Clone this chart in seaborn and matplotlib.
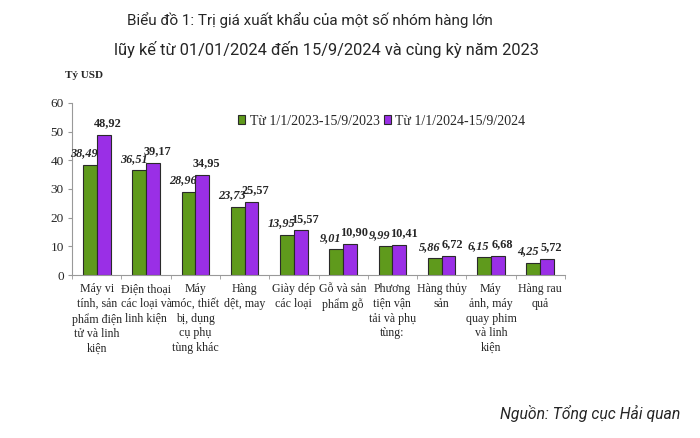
import matplotlib
matplotlib.use("Agg")
import matplotlib.pyplot as plt
import seaborn as sns
import pandas as pd

categories = [
    "Máy vi\ntính, sản\nphẩm điện\ntử và linh\nkiện",
    "Điện thoại\ncác loại và\nlinh kiện",
    "Máy\nmóc, thiết\nbị, dụng\ncụ phụ\ntùng khác",
    "Hàng\ndệt, may",
    "Giày dép\ncác loại",
    "Gỗ và sản\nphẩm gỗ",
    "Phương\ntiện vận\ntải và phụ\ntùng:",
    "Hàng thủy\nsản",
    "Máy\nảnh, máy\nquay phim\nvà linh\nkiện",
    "Hàng rau\nquả",
]
series_names = ["Từ 1/1/2023-15/9/2023", "Từ 1/1/2024-15/9/2024"]
values_2023 = [38.49, 36.51, 28.96, 23.73, 13.95, 9.01, 9.99, 5.86, 6.15, 4.25]
values_2024 = [48.92, 39.17, 34.95, 25.57, 15.57, 10.90, 10.41, 6.72, 6.68, 5.72]
yticks = [0, 10, 20, 30, 40, 50, 60]

df = pd.DataFrame({
    "cat": categories * 2,
    "series": [series_names[0]] * len(categories) + [series_names[1]] * len(categories),
    "value": values_2023 + values_2024,
})

sns.set_style("white")
plt.rcParams["font.family"] = ["Liberation Serif", "DejaVu Serif"]

fig = plt.figure(figsize=(7, 4.38), dpi=100)
ax = fig.add_axes([0.103, 0.372, 0.704, 0.393])

colors = ["#5f9a1c", "#9a2fe6"]
sns.barplot(data=df, x="cat", y="value", hue="series", palette=colors,
            ax=ax, width=0.56, gap=0.0, edgecolor="#2a2a2a", linewidth=0.8,
            saturation=1)

ax.set_ylim(0, 60)
ax.set_yticks(yticks)
ax.set_yticklabels([str(t) for t in yticks], fontsize=9.5)
ax.set_xlabel("")
ax.set_ylabel("")
ax.tick_params(axis="x", labelsize=8.6, length=0, pad=6)
ax.tick_params(axis="y", length=3, color="#999999", pad=3, left=True)
for s in ["top", "right"]:
    ax.spines[s].set_visible(False)
ax.spines["left"].set_color("#999999")
ax.spines["bottom"].set_color("#999999")
for lab in ax.get_xticklabels():
    lab.set_linespacing(1.3)
    lab.set_verticalalignment("top")

ax.set_xticks([i + 0.5 for i in range(-1, len(categories))], minor=True)
ax.tick_params(axis="x", which="minor", length=3, color="#999999", bottom=True)

def fmt(v):
    return f"{v:.2f}".replace(".", ",")

for ci, cont in enumerate(ax.containers):
    for bar, v in zip(cont, [values_2023, values_2024][ci]):
        x = bar.get_x() + bar.get_width() / 2
        h = bar.get_height()
        if ci == 0:
            ax.annotate(fmt(v), (x, h), xytext=(-4, 4), textcoords="offset points",
                        ha="center", va="bottom", fontsize=8.8, fontweight="bold",
                        fontstyle="italic")
        else:
            ax.annotate(fmt(v), (x, h), xytext=(3, 4), textcoords="offset points",
                        ha="center", va="bottom", fontsize=8.8, fontweight="bold")

leg = ax.legend(loc="upper left", bbox_to_anchor=(0.325, 0.965), ncol=2, frameon=False,
                fontsize=10, handlelength=0.55, handleheight=0.6, handletextpad=0.3,
                columnspacing=0.3, borderaxespad=0)

fig.text(0.12, 0.828, "Tỷ USD", fontsize=8, fontweight="bold", ha="center",
         va="center", family=["Liberation Serif"])
fig.text(0.443, 0.955, "Biểu đồ 1: Trị giá xuất khẩu của một số nhóm hàng lớn",
         fontsize=11, ha="center", va="center", family=["Roboto", "DejaVu Sans"])
fig.text(0.466, 0.888, "lũy kế từ 01/01/2024 đến 15/9/2024 và cùng kỳ năm 2023",
         fontsize=11.8, ha="center", va="center", family=["Roboto", "DejaVu Sans"])
fig.text(0.972, 0.057, "Nguồn: Tổng cục Hải quan", fontsize=11.3, ha="right",
         va="center", fontstyle="italic", family=["Roboto", "DejaVu Sans"])

fig.savefig("out.png", dpi=100)
